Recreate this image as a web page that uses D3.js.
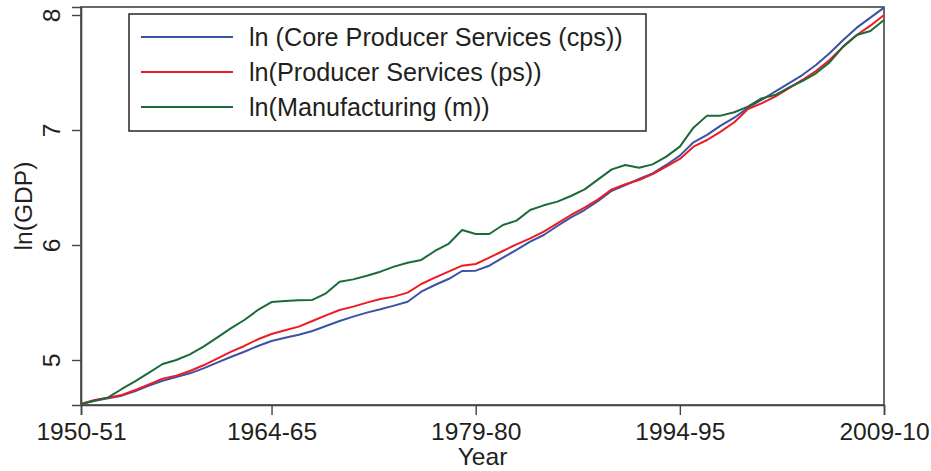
<!DOCTYPE html>
<html>
<head>
<meta charset="utf-8">
<script src="https://cdn.jsdelivr.net/npm/d3@7"></script>
<style>
  body { margin: 0; background: #fff; }
  svg { display: block; font-family: "Liberation Sans", Arial, sans-serif; }
</style>
</head>
<body>
<div id="chart"></div>
<script>
// Year labels (1950-51 ... 2009-10)
const years = d3.range(1950, 2010).map(y => `${y}-${String((y + 1) % 100).padStart(2, "0")}`);

// Series values
const cps = [4.617, 4.646, 4.667, 4.690, 4.730, 4.777, 4.820, 4.852, 4.884, 4.927,
             4.977, 5.026, 5.072, 5.122, 5.165, 5.194, 5.220, 5.252, 5.296, 5.339,
             5.377, 5.412, 5.441, 5.473, 5.507, 5.594, 5.652, 5.704, 5.774, 5.777,
             5.820, 5.890, 5.957, 6.029, 6.087, 6.165, 6.241, 6.304, 6.383, 6.472,
             6.522, 6.574, 6.623, 6.696, 6.777, 6.893, 6.957, 7.038, 7.107, 7.194,
             7.261, 7.333, 7.406, 7.478, 7.565, 7.667, 7.783, 7.890, 7.977, 8.064];
const ps  = [4.617, 4.652, 4.672, 4.696, 4.739, 4.788, 4.838, 4.864, 4.904, 4.954,
             5.012, 5.070, 5.122, 5.180, 5.226, 5.258, 5.290, 5.339, 5.388, 5.435,
             5.464, 5.499, 5.530, 5.551, 5.586, 5.661, 5.716, 5.768, 5.820, 5.835,
             5.890, 5.948, 6.006, 6.058, 6.116, 6.188, 6.261, 6.325, 6.397, 6.484,
             6.528, 6.565, 6.617, 6.681, 6.748, 6.855, 6.913, 6.986, 7.067, 7.183,
             7.232, 7.290, 7.362, 7.435, 7.513, 7.609, 7.725, 7.826, 7.907, 8.000];
const mfg = [4.617, 4.646, 4.675, 4.748, 4.817, 4.890, 4.965, 5.000, 5.049, 5.116,
             5.194, 5.275, 5.348, 5.435, 5.504, 5.513, 5.519, 5.522, 5.580, 5.681,
             5.701, 5.733, 5.768, 5.812, 5.846, 5.870, 5.948, 6.009, 6.130, 6.096,
             6.096, 6.174, 6.212, 6.304, 6.345, 6.377, 6.426, 6.484, 6.571, 6.658,
             6.696, 6.672, 6.701, 6.768, 6.855, 7.020, 7.125, 7.125, 7.154, 7.203,
             7.275, 7.304, 7.368, 7.426, 7.493, 7.588, 7.725, 7.826, 7.861, 7.957];

const seriesNames = ["ln (Core Producer Services (cps))", "ln(Producer Services (ps))", "ln(Manufacturing (m))"];
const seriesColors = ["#3a53a4", "#ed1c24", "#1b6a38"];
const seriesValues = [cps, ps, mfg];

// Axis ticks
const xTickIndex = [0, 14, 29, 44, 59];
const yTicks = [5, 6, 7, 8];

function drawChart() {
    const W = 931, H = 471;
    const plot = {left: 81, right: 884, top: 7, bottom: 405};
    const axisColor = "#444";
    const textColor = "#231f20";
    const fontSize = "24.6px";

    const svg = d3.select("#chart").append("svg")
        .attr("width", W)
        .attr("height", H);

    const x = d3.scaleLinear()
        .domain([0, years.length - 1])
        .range([plot.left, plot.right]);

    const y = d3.scaleLinear()
        .domain([5 - 45 / 115, 8 + 8 / 115])
        .range([plot.bottom, plot.top]);

    // Frame
    svg.append("rect")
        .attr("x", plot.left)
        .attr("y", plot.top)
        .attr("width", plot.right - plot.left)
        .attr("height", plot.bottom - plot.top)
        .attr("fill", "none")
        .attr("stroke", axisColor)
        .attr("stroke-width", 1.6);

    // X axis
    const xAxis = svg.append("g")
        .attr("transform", `translate(0,${plot.bottom})`)
        .call(d3.axisBottom(x)
            .tickValues(xTickIndex)
            .tickFormat(i => years[i])
            .tickSize(10)
            .tickPadding(8));
    xAxis.select(".domain").attr("stroke", axisColor).attr("stroke-width", 1.6);
    xAxis.selectAll(".tick line").attr("stroke", axisColor).attr("stroke-width", 1.4);
    xAxis.selectAll(".tick text")
        .attr("fill", textColor)
        .style("font-size", fontSize)
        .style("font-family", "'Liberation Sans', Arial, sans-serif");

    // Y axis (labels rotated, Stata style)
    const yAxis = svg.append("g")
        .attr("transform", `translate(${plot.left},0)`)
        .call(d3.axisLeft(y).tickValues(yTicks).tickSize(9).tickFormat(d3.format("d")));
    yAxis.select(".domain").attr("stroke", axisColor).attr("stroke-width", 1.6);
    yAxis.selectAll(".tick line").attr("stroke", axisColor).attr("stroke-width", 1.4);
    yAxis.selectAll(".tick text")
        .attr("fill", textColor)
        .attr("x", null)
        .attr("dy", null)
        .attr("text-anchor", "middle")
        .attr("transform", "translate(-21,0) rotate(-90)")
        .style("font-size", fontSize)
        .style("font-family", "'Liberation Sans', Arial, sans-serif");

    // Axis titles
    svg.append("text")
        .attr("x", (plot.left + plot.right) / 2)
        .attr("y", 465)
        .attr("text-anchor", "middle")
        .attr("fill", textColor)
        .style("font-size", fontSize)
        .text("Year");

    svg.append("text")
        .attr("transform", `translate(32,${(plot.top + plot.bottom) / 2}) rotate(-90)`)
        .attr("text-anchor", "middle")
        .attr("fill", textColor)
        .style("font-size", fontSize)
        .text("ln(GDP)");

    // Lines
    const line = d3.line()
        .x((d, i) => x(i))
        .y(d => y(d));

    seriesValues.forEach((vals, k) => {
        svg.append("path")
            .datum(vals)
            .attr("d", line)
            .attr("fill", "none")
            .attr("stroke", seriesColors[k])
            .attr("stroke-width", 2)
            .attr("stroke-linejoin", "round");
    });

    // Legend
    const legend = svg.append("g");
    legend.append("rect")
        .attr("x", 129)
        .attr("y", 14)
        .attr("width", 517)
        .attr("height", 117)
        .attr("fill", "#fff")
        .attr("stroke", "#333")
        .attr("stroke-width", 1.6);

    seriesNames.forEach((name, k) => {
        const ly = 37 + k * 35;
        legend.append("line")
            .attr("x1", 141)
            .attr("x2", 233)
            .attr("y1", ly)
            .attr("y2", ly)
            .attr("stroke", seriesColors[k])
            .attr("stroke-width", 2);
        legend.append("text")
            .attr("x", 249)
            .attr("y", ly)
            .attr("dy", "0.35em")
            .attr("fill", textColor)
            .style("font-size", "25.2px")
            .text(name);
    });
}

drawChart();
</script>
</body>
</html>
